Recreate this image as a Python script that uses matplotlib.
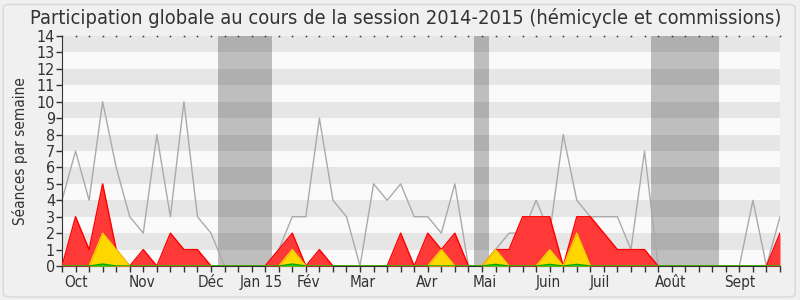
import numpy as np
import matplotlib
matplotlib.use('Agg')
import matplotlib.pyplot as plt
from matplotlib.patches import FancyBboxPatch

# weekly values, session 2014-2015 (54 weeks)
weeks = np.arange(54)
total = [4, 7, 4, 10, 6, 3, 2, 8, 3, 10, 3, 2, 0, 0, 0, 0, 1, 3, 3, 9,
         4, 3, 0, 5, 4, 5, 3, 3, 2, 5, 0, 0, 1, 2, 2, 4, 2, 8, 4, 3,
         3, 3, 1, 7, 0, 0, 0, 0, 0, 0, 0, 4, 0, 3]
red = [0, 3, 1, 5, 1, 0, 1, 0, 2, 1, 1, 0, 0, 0, 0, 0, 1, 2, 0, 1,
       0, 0, 0, 0, 0, 2, 0, 2, 1, 2, 0, 0, 1, 1, 3, 3, 3, 0, 3, 3,
       2, 1, 1, 1, 0, 0, 0, 0, 0, 0, 0, 0, 0, 2]
yellow = [0, 0, 0, 2, 1, 0, 0, 0, 0, 0, 0, 0, 0, 0, 0, 0, 0, 1, 0, 0,
          0, 0, 0, 0, 0, 0, 0, 0, 1, 0, 0, 0, 1, 0, 0, 0, 1, 0, 2, 0,
          0, 0, 0, 0, 0, 0, 0, 0, 0, 0, 0, 0, 0, 0]
green = [0, 0, 0, 0.12, 0, 0, 0, 0, 0, 0, 0, 0, 0, 0, 0, 0, 0, 0.12, 0, 0,
         0, 0, 0, 0, 0, 0, 0, 0, 0, 0, 0, 0, 0.1, 0, 0, 0, 0.1, 0, 0.1, 0,
         0, 0, 0, 0, 0, 0, 0, 0, 0, 0, 0, 0, 0, 0]
vacances = [(11.5, 15.5), (30.4, 31.5), (43.5, 48.5)]
month_labels = ['Oct', 'Nov', 'Déc', 'Jan 15', 'Fév', 'Mar', 'Avr', 'Mai',
                'Juin', 'Juil', 'Août', 'Sept']
month_pos = [0.2, 4.95, 10.0, 13.15, 17.3, 21.2, 26.1, 30.3, 35.0, 38.95,
             43.75, 48.85]

plt.rcParams['font.family'] = ['DejaVu Sans']
plt.rcParams['font.stretch'] = 'condensed'
fig = plt.figure(figsize=(8, 3), dpi=100, facecolor='#f0f0f0')
fig.patches.append(FancyBboxPatch((0.004, 0.01), 0.99, 0.975,
                                  boxstyle='round,pad=0,rounding_size=0.01',
                                  transform=fig.transFigure, fc='#f0f0f0',
                                  ec='#d8d8d8', lw=1, zorder=-10))
ax = fig.add_axes([0.0775, 0.1133, 0.8975, 0.7667])
ax.set_facecolor('#fafafa')

for k in range(1, 14, 2):
    ax.axhspan(k, k + 1, color='#e6e6e6', lw=0, zorder=0)
for a, b in vacances:
    ax.axvspan(a, b, color='black', alpha=0.24, lw=0, zorder=1)

ax.plot(weeks, total, color='#aaaaaa', lw=1, zorder=2)
ax.fill_between(weeks, red, color='#ff3838', lw=0, zorder=3)
ax.plot(weeks, red, color='#ff0000', lw=1, zorder=3)
ax.fill_between(weeks, yellow, color='#ffd700', lw=0, zorder=4)
ax.plot(weeks, yellow, color='#f0d000', lw=1, zorder=4)
ax.fill_between(weeks, green, color='#22cc22', lw=0, zorder=5)
ax.plot(weeks, green, color='#00aa00', lw=1, zorder=5)
# small dots along the top edge
ax.plot(weeks, np.full(54, 14), ls='none', marker='s', ms=1.1,
        mfc='#333333', mec='none', zorder=6, clip_on=False)

ax.set_xlim(0, 53)
ax.set_ylim(0, 14)
ax.set_yticks(range(15))
ax.set_xticks(weeks)
ax.set_xticklabels([])
ax.tick_params(axis='both', direction='out', length=4, width=1,
               color='#333333', labelsize=11.5, labelcolor='#333333')
ax.tick_params(axis='y', pad=1)
for s in ['top', 'right']:
    ax.spines[s].set_visible(False)
ax.spines['left'].set_color('#333333')
ax.spines['bottom'].set_color('#333333')

for lab, p in zip(month_labels, month_pos):
    ax.text(p, -0.55, lab, ha='left', va='top', fontsize=11,
            color='#333333')

ax.set_ylabel('Séances par semaine', fontsize=11, color='#333333',
              labelpad=6)
fig.suptitle('Participation globale au cours de la session 2014-2015 '
             '(hémicycle et commissions)', x=0.5075, y=0.975, fontsize=14.4,
             color='#333333')

plt.savefig('out.png', dpi=100, facecolor=fig.get_facecolor())
